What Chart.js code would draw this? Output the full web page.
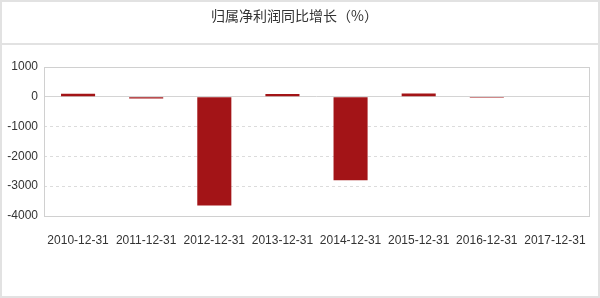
<!DOCTYPE html>
<html>
<head>
<meta charset="utf-8">
<script src="https://cdn.jsdelivr.net/npm/chart.js@4"></script>
<style>
  html, body { margin: 0; padding: 0; background: #fff; }
  #wrap { position: relative; width: 600px; height: 298px; }
  canvas { display: block; }
</style>
</head>
<body>
<div id="wrap"><canvas id="c" width="600" height="298"></canvas></div>
<script>
const titleText = '归属净利润同比增长（%）';
const categories = ['2010-12-31','2011-12-31','2012-12-31','2013-12-31','2014-12-31','2015-12-31','2016-12-31','2017-12-31'];
const growthValues = [95, -65, -3650, 90, -2805, 105, -40, null];
const yTicks = [1000, 0, -1000, -2000, -3000, -4000];

const framePlugin = {
  id: 'frame',
  beforeDraw(chart) {
    const ctx = chart.ctx;
    ctx.save();
    ctx.fillStyle = '#fff';
    ctx.fillRect(0, 0, chart.width, chart.height);
    ctx.strokeStyle = '#e2e2e2';
    ctx.lineWidth = 2;
    ctx.strokeRect(1, 1, chart.width - 2, chart.height - 2);
    ctx.beginPath();
    ctx.moveTo(0, 44);
    ctx.lineTo(chart.width, 44);
    ctx.stroke();
    ctx.restore();
  },
  afterDatasetsDraw(chart) {
    const {left, top, right, bottom} = chart.chartArea;
    const ctx = chart.ctx;
    ctx.save();
    ctx.strokeStyle = '#d0d0d0';
    ctx.lineWidth = 1;
    ctx.strokeRect(Math.round(left) + 0.5, Math.round(top) + 0.5, Math.round(right - left), Math.round(bottom - top));
    ctx.restore();
  }
};

new Chart(document.getElementById('c'), {
  type: 'bar',
  data: {
    labels: categories,
    datasets: [{
      data: growthValues,
      backgroundColor: '#a31417',
      borderWidth: 0,
      barPercentage: 0.5,
      categoryPercentage: 1
    }]
  },
  options: {
    responsive: false,
    animation: false,
    devicePixelRatio: 1,
    layout: { padding: { left: 0, right: 11, top: 0, bottom: 0 } },
    plugins: {
      legend: { display: false },
      tooltip: { enabled: false },
      title: {
        display: true,
        text: titleText,
        color: '#333',
        font: { family: '"Noto Sans CJK SC", sans-serif', size: 14, weight: 'normal' },
        padding: { top: 7, bottom: 43 }
      }
    },
    scales: {
      x: {
        grid: { display: false },
        border: { display: false },
        ticks: {
          color: '#333',
          font: { family: '"Liberation Sans", Arial, sans-serif', size: 12 },
          padding: 9,
          maxRotation: 0,
          autoSkip: false
        },
        afterFit(scale) { scale.height = 82; }
      },
      y: {
        min: -4000,
        max: 1000,
        afterBuildTicks(scale) { scale.ticks = yTicks.map(v => ({ value: v })); },
        grid: {
          drawTicks: false,
          color(ctx) {
            const v = ctx.tick && ctx.tick.value;
            if (v === 0) return '#d4d4d4';
            if (v === 1000 || v === -4000) return 'rgba(0,0,0,0)';
            return '#dcdcdc';
          }
        },
        border: {
          display: false,
          dash(ctx) {
            const v = ctx.tick && ctx.tick.value;
            return v === 0 ? [] : [3, 3];
          }
        },
        ticks: {
          color: '#333',
          font: { family: '"Liberation Sans", Arial, sans-serif', size: 12 },
          padding: 6,
          callback(value) { return String(value); }
        },
        afterFit(scale) { scale.width = 44; }
      }
    }
  },
  plugins: [framePlugin]
});
</script>
</body>
</html>
